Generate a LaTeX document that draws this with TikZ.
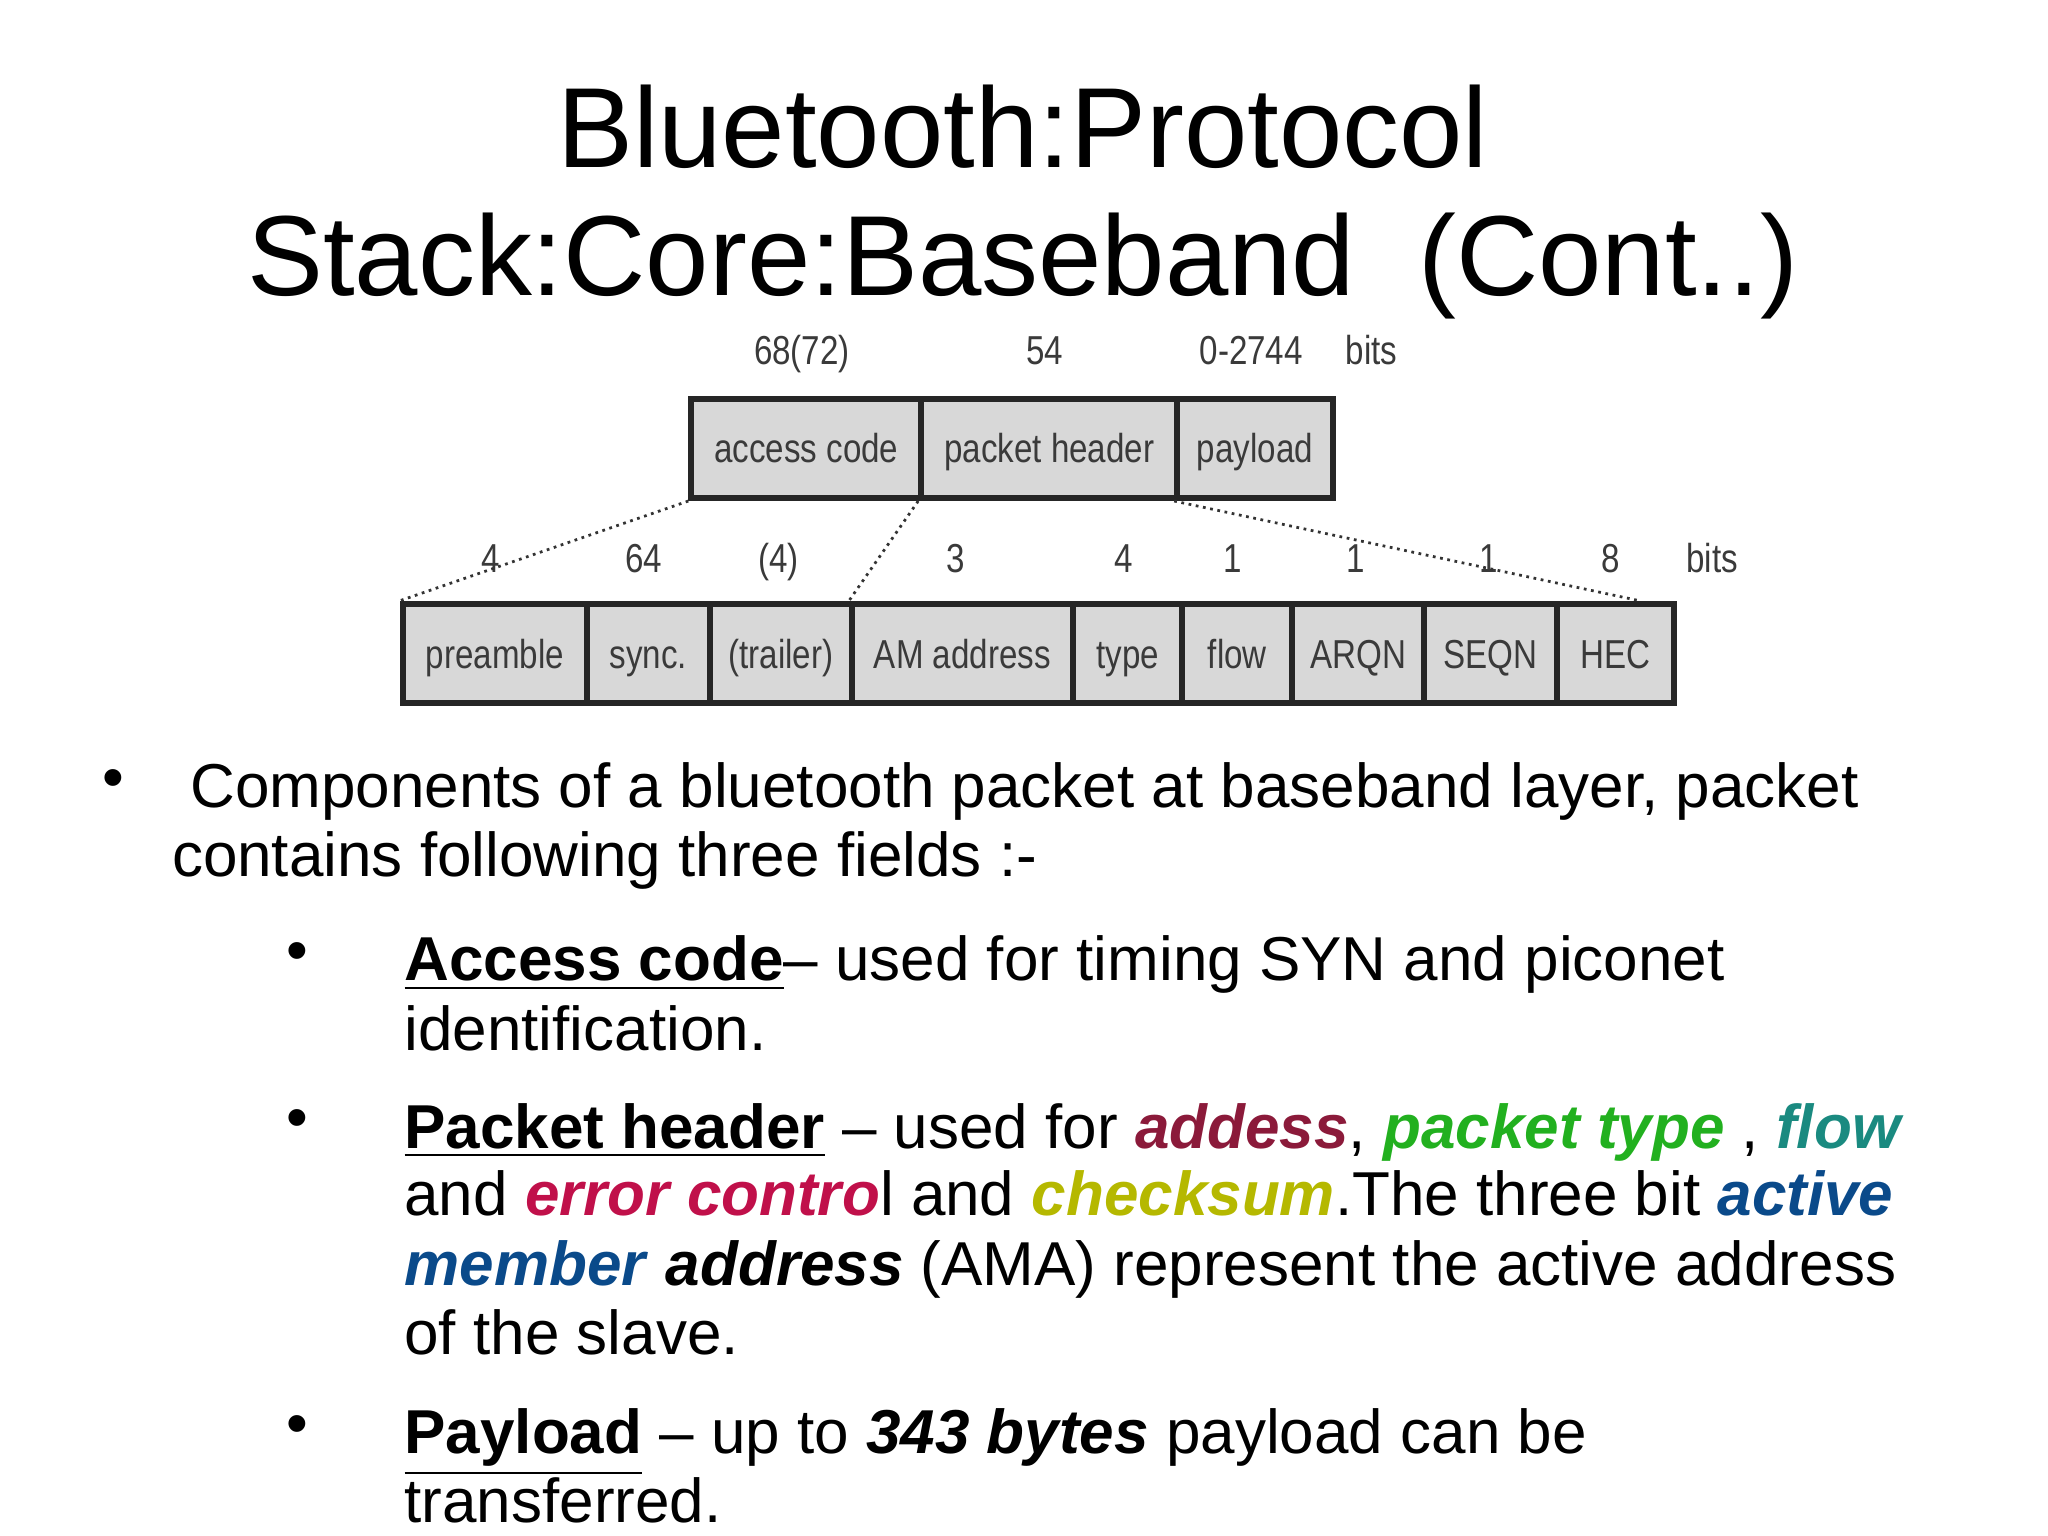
\documentclass[tikz,border=0pt]{standalone}
\usepackage{fontspec}
\setmainfont{Liberation Sans}
\newfontfamily\narrowf[FakeStretch=0.82]{Liberation Sans}
\usetikzlibrary{positioning}
\definecolor{boxfill}{HTML}{D8D8D8}
\definecolor{lblc}{HTML}{3A3A3A}
\definecolor{caddr}{HTML}{8B1A3A}
\definecolor{cptype}{HTML}{22B01F}
\definecolor{cflow}{HTML}{1A8A80}
\definecolor{cerr}{HTML}{C0104A}
\definecolor{cchk}{HTML}{B5B800}
\definecolor{cama}{HTML}{0A4A8A}
\tikzset{
  px/.style={x=0.01cm,y=-0.01cm},
  fld/.style={draw=black!85,line width=1.3pt,fill=boxfill,minimum height=0.76cm,inner sep=0pt,anchor=north west,font=\narrowf\fontsize{8.8}{11}\selectfont,text=lblc,text height=1.6ex,text depth=0.4ex},
  num/.style={font=\narrowf\fontsize{8.8}{11}\selectfont,text=lblc,text height=1.6ex,text depth=0.4ex},
  ttl/.style={font=\fontsize{24.8}{30}\selectfont,anchor=base},
  txt/.style={font=\fontsize{13.5}{16}\selectfont,anchor=base west,inner sep=0pt},
  bul/.style={font=\fontsize{13.5}{16}\selectfont,anchor=base,inner sep=0pt},
  dotl/.style={densely dotted,line width=0.6pt,black!80}
}
\newcommand{\fw}[1]{\textbf{\textit{#1}}}
\begin{document}
\begin{tikzpicture}[px]
\useasboundingbox (0,0) rectangle (1568,1176);
\node[ttl] (t1) at (783,128) {Bluetooth:Protocol};
\node[ttl] (t2) at (783,226) {Stack:Core:Baseband\ \ (Cont..)};
% top row
\node[fld,minimum width=1.76cm] (ac) at (527,303) {access code};
\node[fld,minimum width=1.96cm] (ph) at (703,303) {packet header};
\node[fld,minimum width=1.19cm] (pl) at (899,303) {payload};
\node[num] (n1) at (614,268) {68(72)};
\node[num] (n2) at (800,268) {54};
\node[num] (n3) at (958,268) {0-2744};
\node[num] (n4) at (1050,268) {bits};
% bottom row
\node[fld,minimum width=1.41cm] (pr) at (306,460) {preamble};
\node[fld,minimum width=0.94cm] (sy) at (447,460) {sync.};
\node[fld,minimum width=1.09cm] (tr) at (541,460) {(trailer)};
\node[fld,minimum width=1.69cm] (am) at (650,460) {AM address};
\node[fld,minimum width=0.84cm] (ty) at (819,460) {type};
\node[fld,minimum width=0.84cm] (fl) at (903,460) {flow};
\node[fld,minimum width=1.01cm] (ar) at (987,460) {ARQN};
\node[fld,minimum width=1.02cm] (se) at (1088,460) {SEQN};
\node[fld,minimum width=0.89cm] (he) at (1190,460) {HEC};
\foreach \t/\x [count=\i] in {4/376,64/493,(4)/596,3/732,4/860,1/944,1/1038,1/1140,8/1233,bits/1311}
  \node[num] (b\i) at (\x,427) {\t};
\draw[dotl] (ac.south west) -- (pr.north west);
\draw[dotl] (ph.south west) -- (am.north west);
\draw[dotl] (pl.south west) -- ([xshift=-8pt]he.north east);
% bullets
\node[bul] (u0) at (87,611) {\textbullet};
\node[txt] (l1) at (145,618) {Components of a bluetooth packet at baseband layer, packet};
\node[txt] (l2) at (131,671) {contains following three fields :-};
\node[bul] (u1) at (228,744) {\textbullet};
\node[txt] (l3) at (309,751) {\textbf{\underline{Access code}}– used for timing SYN and piconet};
\node[txt] (l4) at (309,804) {identification.};
\node[bul] (u2) at (228,872) {\textbullet};
\node[txt] (l5) at (309,879) {\textbf{\underline{Packet header}} – used for \textcolor{caddr}{\fw{addess}}, \textcolor{cptype}{\fw{packet type}} , \textcolor{cflow}{\fw{flow}}};
\node[txt] (l6) at (309,931) {and \textcolor{cerr}{\fw{error contro}}l and \textcolor{cchk}{\fw{checksum}}.The three bit \textcolor{cama}{\fw{active}}};
\node[txt] (l7) at (309,984) {\textcolor{cama}{\fw{member}} \fw{address} (AMA) represent the active address};
\node[txt] (l8) at (309,1037) {of the slave.};
\node[bul] (u3) at (228,1106) {\textbullet};
\node[txt] (l9) at (309,1113) {\textbf{\underline{Payload}} – up to \fw{343 bytes} payload can be};
\node[txt] (l10) at (309,1166) {transferred.};
\end{tikzpicture}
\end{document}
